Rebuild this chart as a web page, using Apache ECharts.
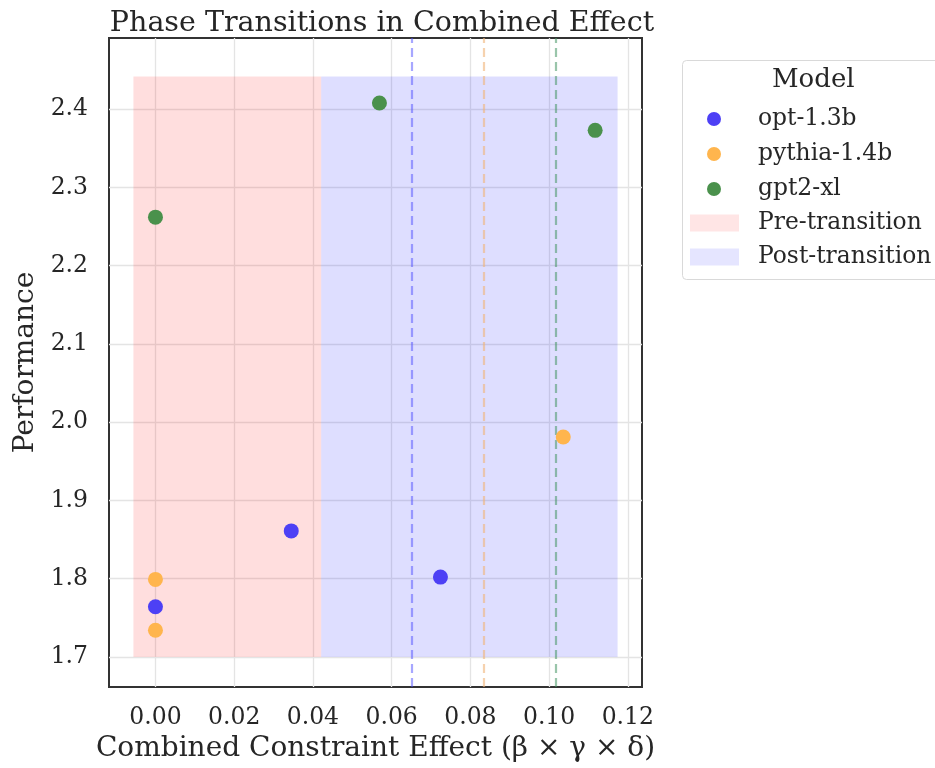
<!DOCTYPE html>
<html>
<head>
<meta charset="utf-8">
<script src="https://cdn.jsdelivr.net/npm/echarts@6/dist/echarts.min.js"></script>
<style>html,body{margin:0;padding:0;background:#fff}#c{width:935px;height:768px}</style>
</head>
<body>
<div id="c"></div>
<script>
const xTicks = [0.00, 0.02, 0.04, 0.06, 0.08, 0.10, 0.12];
const yTicks = [1.7, 1.8, 1.9, 2.0, 2.1, 2.2, 2.3, 2.4];
const models = ['opt-1.3b', 'pythia-1.4b', 'gpt2-xl'];
const modelColors = ['#4d40f5', '#ffb54d', '#4a914c'];
const lineColors = ['rgba(80,80,255,0.5)', 'rgba(240,180,120,0.6)', 'rgba(70,150,100,0.55)'];
const optPoints = [[0.0, 1.764], [0.0345, 1.861], [0.0724, 1.802]];
const pythiaPoints = [[0.0, 1.799], [0.0, 1.734], [0.1036, 1.981]];
const gpt2Points = [[0.0, 2.262], [0.0569, 2.408], [0.1117, 2.373]];
const transitionX = [0.0652, 0.0835, 0.1018];
const spanNames = ['Pre-transition', 'Post-transition'];
const spanColors = ['rgba(255,0,0,0.13)', 'rgba(0,0,255,0.13)'];
const preSpan = [-0.0056, 0.0421];
const postSpan = [0.0421, 0.1174];
const spanY = [1.700, 2.4417];

const serif = 'DejaVu Serif';
const pointSets = [optPoints, pythiaPoints, gpt2Points];
const series = models.map((m, i) => ({
  name: m, type: 'scatter', data: pointSets[i], symbolSize: 15, z: 5,
  itemStyle: { color: modelColors[i], opacity: 1 },
  markLine: {
    silent: true, symbol: 'none', label: { show: false }, precision: 6,
    lineStyle: { color: lineColors[i], type: [9, 5], width: 2.2 },
    data: [{ xAxis: transitionX[i] }]
  }
}));
[preSpan, postSpan].forEach((s, i) => {
  series.push({
    name: spanNames[i], type: 'scatter', data: [], z: 1,
    itemStyle: { color: spanColors[i] },
    markArea: {
      silent: true,
      itemStyle: { color: spanColors[i] },
      data: [[{ xAxis: s[0], yAxis: spanY[0] }, { xAxis: s[1], yAxis: spanY[1] }]]
    }
  });
});

const txt = '#262626';
const chart = echarts.init(document.getElementById('c'));
chart.setOption({
  animation: false,
  backgroundColor: '#fff',
  title: {
    text: 'Phase Transitions in Combined Effect', left: 377, top: 4, textAlign: 'center',
    textStyle: { fontFamily: serif, fontSize: 28.5, fontWeight: 'normal', color: txt }
  },
  grid: { left: 109, right: 293, top: 38, bottom: 81, show: true, borderColor: '#333', borderWidth: 2, backgroundColor: 'transparent' },
  xAxis: {
    type: 'value', min: -0.0118, max: 0.1236,
    name: 'Combined Constraint Effect (β × γ × δ)', nameLocation: 'middle', nameGap: 48,
    nameTextStyle: { fontFamily: serif, fontSize: 28, color: txt },
    axisLine: { show: false }, axisTick: { show: false, customValues: xTicks },
    axisLabel: { customValues: xTicks, formatter: v => v.toFixed(2), fontFamily: serif, fontSize: 23.5, color: txt, margin: 19 },
    splitLine: { show: true, lineStyle: { color: '#e4e4e4', width: 1.3 } }
  },
  yAxis: {
    type: 'value', min: 1.6615, max: 2.491,
    name: 'Performance', nameLocation: 'middle', nameGap: 68,
    nameTextStyle: { fontFamily: serif, fontSize: 28, color: txt },
    axisLine: { show: false }, axisTick: { show: false, customValues: yTicks },
    axisLabel: { customValues: yTicks, formatter: v => v.toFixed(1), fontFamily: serif, fontSize: 23.5, color: txt, margin: 21 },
    splitLine: { show: true, lineStyle: { color: '#e4e4e4', width: 1.3 } }
  },
  legend: [
    {
      orient: 'vertical', left: 707, top: 107, padding: 0, itemWidth: 14, itemHeight: 14, itemGap: 11,
      data: models.map(m => ({ name: m, icon: 'circle' })),
      textStyle: { fontFamily: serif, fontSize: 23.4, lineHeight: 24, color: txt, padding: [0, 0, 0, 32] }
    },
    {
      orient: 'vertical', left: 690, top: 211, padding: 0, itemWidth: 49, itemHeight: 17, itemGap: 10,
      data: spanNames.map(m => ({ name: m, icon: 'rect' })),
      textStyle: { fontFamily: serif, fontSize: 23.4, lineHeight: 24, color: txt, padding: [0, 0, 0, 14] }
    }
  ],
  graphic: [
    { type: 'rect', left: 682, top: 60, z: -1, shape: { width: 270, height: 219, r: 4 }, style: { fill: '#fff', stroke: '#d9d9d9', lineWidth: 1 } },
    { type: 'text', left: 772, top: 67, style: { text: 'Model', fontFamily: serif, fontSize: 26, fill: txt } }
  ],
  series: series
});
</script>
</body>
</html>
